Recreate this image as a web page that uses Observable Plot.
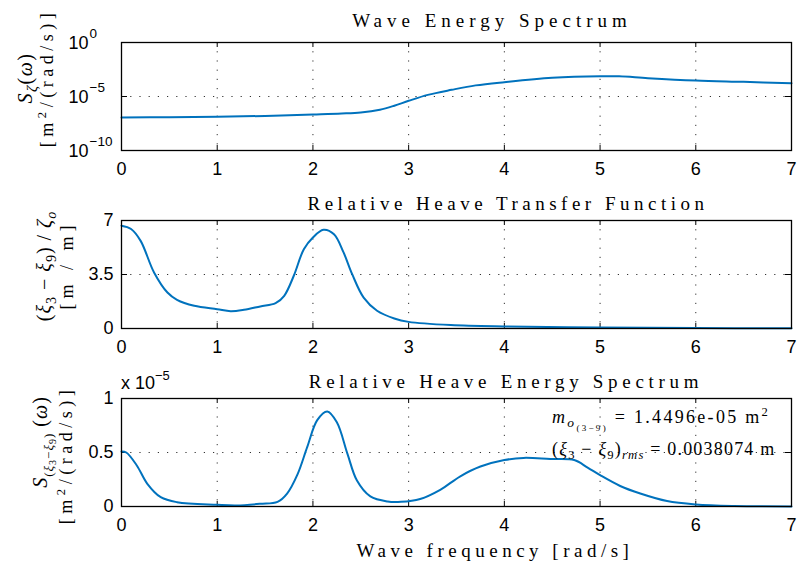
<!DOCTYPE html>
<html>
<head>
<meta charset="utf-8">
<script src="https://cdn.jsdelivr.net/npm/d3@7"></script>
<script src="https://cdn.jsdelivr.net/npm/@observablehq/plot@0.6"></script>
<style>
  html, body { margin: 0; padding: 0; background: #fff; }
  #fig { position: relative; width: 797px; height: 572px; background: #fff; overflow: hidden; }
  .panel { position: absolute; left: 0; }
  #overlay { position: absolute; left: 0; top: 0; pointer-events: none; }
</style>
</head>
<body>
<div id="fig">
  <div class="panel" id="p1" style="top:0px"></div>
  <div class="panel" id="p2" style="top:178px"></div>
  <div class="panel" id="p3" style="top:356px"></div>
</div>
<script>
// ---------- data ----------
const xTicks = [0, 1, 2, 3, 4, 5, 6, 7];

// Panel 1: wave energy spectrum S_zeta(omega) [m^2/(rad/s)]
const freq1 = [0, 0.5, 1, 1.5, 2, 2.3, 2.5, 2.7, 2.85, 3.0, 3.2, 3.45, 3.7, 4.0, 4.5, 5.0, 5.2, 5.5, 6.0, 6.5, 7.0];
const spec1 = [1.15e-7, 1.20e-7, 1.32e-7, 1.58e-7, 2.14e-7, 2.63e-7, 3.31e-7, 6.03e-7, 1.41e-6, 3.98e-6, 1.41e-5, 4.17e-5, 1.07e-4, 2.14e-4, 5.37e-4, 7.59e-4, 7.41e-4, 5.01e-4, 3.02e-4, 2.29e-4, 1.70e-4];
const yTicks1 = [1e-10, 1e-5, 1];

// Panel 2: relative heave transfer function [m/m]
const freq2 = [0, 0.1, 0.2, 0.34, 0.48, 0.58, 0.76, 1.0, 1.14, 1.28, 1.45, 1.61, 1.70, 1.80, 1.905, 2.0, 2.11, 2.22, 2.32, 2.41, 2.53, 2.67, 2.85, 3.0, 3.44, 4.0, 5.0, 6.0, 7.0];
const rao2  = [6.66, 6.45, 5.68, 3.63, 2.33, 1.86, 1.47, 1.25, 1.12, 1.21, 1.43, 1.64, 2.12, 3.42, 5.14, 5.9, 6.4, 6.11, 4.93, 3.52, 2.0, 1.15, 0.65, 0.43, 0.22, 0.13, 0.07, 0.03, 0.02];
const yTicks2 = [0, 3.5, 7];

// Panel 3: relative heave energy spectrum, in units of 1e-5 m^2/(rad/s)
const freq3 = [0, 0.05, 0.16, 0.27, 0.41, 0.58, 1.0, 1.2, 1.45, 1.63, 1.73, 1.84, 1.94, 2.045, 2.15, 2.25, 2.36, 2.46, 2.60, 2.78, 2.92, 3.12, 3.33, 3.54, 3.75, 4.0, 4.2, 4.48, 4.73, 4.87, 5.0, 5.21, 5.42, 5.70, 6.0, 6.4, 7.0];
const spec3 = [0.51, 0.50, 0.38, 0.21, 0.086, 0.04, 0.016, 0.01, 0.025, 0.043, 0.12, 0.30, 0.55, 0.80, 0.88, 0.78, 0.49, 0.24, 0.093, 0.046, 0.043, 0.07, 0.155, 0.28, 0.37, 0.43, 0.45, 0.44, 0.43, 0.36, 0.29, 0.19, 0.12, 0.05, 0.019, 0.005, 0.001];
const yTicks3 = [0, 0.5, 1];

const titles = ["Wave Energy Spectrum", "Relative Heave Transfer Function", "Relative Heave Energy Spectrum"];
const xLabel = "Wave frequency [rad/s]";
const annot1 = "= 1.4496e-05 m";
const annot2 = "= 0.0038074 m";

// ---------- plotting ----------
const BLUE = "#0072BD";
const SANS = "Liberation Sans, Arial, Helvetica, sans-serif";
const SERIF = "Liberation Serif, Times New Roman, serif";
const W = 797, ML = 121, MR = 6, MT = 42, FH = 108;
const gridStyle = {stroke: "#333", strokeOpacity: 1, strokeDasharray: "1.2,8", strokeWidth: 1};

function commonMarks(yTicks) {
  return [
    Plot.gridX(xTicks, gridStyle),
    Plot.gridY(yTicks, gridStyle),
    Plot.tickX(xTicks, {x: d => d, insetTop: FH - 5, stroke: "black", strokeWidth: 1}),
    Plot.tickX(xTicks, {x: d => d, insetBottom: FH - 5, stroke: "black", strokeWidth: 1}),
    Plot.tickY(yTicks, {y: d => d, insetRight: (W - ML - MR) - 6, stroke: "black", strokeWidth: 1}),
    Plot.tickY(yTicks, {y: d => d, insetLeft: (W - ML - MR) - 6, stroke: "black", strokeWidth: 1}),
    Plot.axisX(xTicks, {tickSize: 0, tickPadding: 12, fontSize: 18, label: null, fill: "black"})
  ];
}

function panel(el, height, marginBottom, yOpts, marks) {
  const chart = Plot.plot({
    width: W, height, marginLeft: ML, marginRight: MR, marginTop: MT, marginBottom,
    style: {fontFamily: SANS, fontSize: "18px", color: "black", background: "transparent", overflow: "visible"},
    x: {domain: [0, 7], label: null},
    y: {...yOpts, label: null},
    marks
  });
  document.getElementById(el).appendChild(chart);
}

// Panel 1 (log)
panel("p1", 178, 28, {type: "log", domain: [1e-10, 1], axis: null}, [
  ...commonMarks(yTicks1),
  Plot.line(freq1.map((f, i) => ({f, s: spec1[i]})), {x: "f", y: "s", stroke: BLUE, strokeWidth: 2, curve: "catmull-rom"}),
  Plot.frame({stroke: "black", strokeWidth: 1.3}),
  Plot.text(yTicks1, {y: d => d, text: () => "10", frameAnchor: "left", dx: -53, dy: 1, textAnchor: "start", fontSize: 18, fill: "black"}),
  Plot.text(yTicks1, {y: d => d, text: d => { const e = Math.round(Math.log10(d)); return e < 0 ? "−" + (-e) : String(e); }, frameAnchor: "left", dx: -32, dy: -9, textAnchor: "start", fontSize: 13.5, fill: "black"})
]);

// Panel 2 (linear)
panel("p2", 178, 28, {domain: [0, 7]}, [
  ...commonMarks(yTicks2),
  Plot.line(freq2.map((f, i) => ({f, r: rao2[i]})), {x: "f", y: "r", stroke: BLUE, strokeWidth: 2, curve: "catmull-rom"}),
  Plot.frame({stroke: "black", strokeWidth: 1.3}),
  Plot.axisY(yTicks2, {tickSize: 0, tickPadding: 8, fontSize: 18, label: null, fill: "black", tickFormat: d => String(d)})
]);

// Panel 3 (linear, x 1e-5)
panel("p3", 216, 66, {domain: [0, 1]}, [
  ...commonMarks(yTicks3),
  Plot.line(freq3.map((f, i) => ({f, s: spec3[i]})), {x: "f", y: "s", stroke: BLUE, strokeWidth: 2, curve: "catmull-rom"}),
  Plot.frame({stroke: "black", strokeWidth: 1.3}),
  Plot.axisY(yTicks3, {tickSize: 0, tickPadding: 8, fontSize: 18, label: null, fill: "black", tickFormat: d => String(d)})
]);

// ---------- text overlay ----------
const ov = d3.select("#fig").append("svg").attr("id", "overlay").attr("width", W).attr("height", 572);

function rich(x, y, parts, {rotate = 0, anchor = "start", size = 17, family = SERIF, ls = 0} = {}) {
  const t = ov.append("text")
    .attr("transform", `translate(${x},${y}) rotate(${rotate})`)
    .attr("text-anchor", anchor).attr("font-family", family)
    .attr("font-size", size).attr("letter-spacing", ls).attr("fill", "black");
  let off = 0;
  for (const p of parts) {
    const b = p.b || 0;
    const ts = t.append("tspan").text(p.t).attr("dy", b - off);
    off = b;
    if (p.f) ts.attr("font-size", size * p.f);
    if (p.i) ts.attr("font-style", "italic");
  }
  return t;
}

// titles
rich(492, 27, [{t: titles[0]}], {anchor: "middle", size: 19, ls: 5});
rich(508, 210, [{t: titles[1]}], {anchor: "middle", size: 19, ls: 4.5});
rich(506, 388, [{t: titles[2]}], {anchor: "middle", size: 19, ls: 4.7});
// x label
rich(495, 557, [{t: xLabel}], {anchor: "middle", size: 19, ls: 4.5});

// y labels panel 1
rich(32, 78, [{t: "S", i: 1}, {t: "ζ", i: 1, b: 5, f: 0.75}, {t: "(", b: 0}, {t: "ω", i: 1}, {t: ")"}], {rotate: -90, anchor: "middle", size: 20, ls: 1.5});
rich(53, 78, [{t: "[m"}, {t: "2", b: -7, f: 0.7}, {t: "/(rad/s)]", b: 0}], {rotate: -90, anchor: "middle", size: 18, ls: 4.5});

// y labels panel 2
rich(51, 266, [{t: "("}, {t: "ξ", i: 1}, {t: "3", b: 5, f: 0.7}, {t: " − ", b: 0}, {t: "ξ", i: 1}, {t: "9", b: 5, f: 0.7}, {t: ") / ", b: 0}, {t: "ζ", i: 1}, {t: "o", i: 1, b: 5, f: 0.7}], {rotate: -90, anchor: "middle", size: 20, ls: 1});
rich(73, 265, [{t: "[m / m]"}], {rotate: -90, anchor: "middle", size: 18, ls: 5});

// y labels panel 3
rich(47, 442, [{t: "S", i: 1}, {t: "(", b: 6, f: 0.65}, {t: "ξ", i: 1, b: 6, f: 0.65}, {t: "3", b: 9, f: 0.5}, {t: "−", b: 6, f: 0.65}, {t: "ξ", i: 1, b: 6, f: 0.65}, {t: "9", b: 9, f: 0.5}, {t: ")", b: 6, f: 0.65}, {t: " (", b: 0}, {t: "ω", i: 1}, {t: ")"}], {rotate: -90, anchor: "middle", size: 20, ls: 1});
rich(72, 455, [{t: "[m"}, {t: "2", b: -7, f: 0.7}, {t: "/(rad/s)]", b: 0}], {rotate: -90, anchor: "middle", size: 18, ls: 4.5});

// x 10^-5 multiplier
rich(121, 389, [{t: "x 10"}, {t: "−5", b: -9, f: 0.72}], {family: SANS, size: 18});

// annotations
rich(552, 423, [{t: "m", i: 1}, {t: "o", i: 1, b: 4, f: 0.75}, {t: "(3−9)", b: 8, f: 0.5}, {t: " " + annot1, b: 0}, {t: "2", b: -7, f: 0.7}], {size: 18, ls: 2.3});
rich(552, 455, [{t: "("}, {t: "ξ", i: 1}, {t: "3", b: 4, f: 0.7}, {t: " − ", b: 0}, {t: "ξ", i: 1}, {t: "9", b: 4, f: 0.7}, {t: ")", b: 0}, {t: "rms", i: 1, b: 4, f: 0.7}, {t: " " + annot2, b: 0}], {size: 18, ls: 1.2});
</script>
</body>
</html>
